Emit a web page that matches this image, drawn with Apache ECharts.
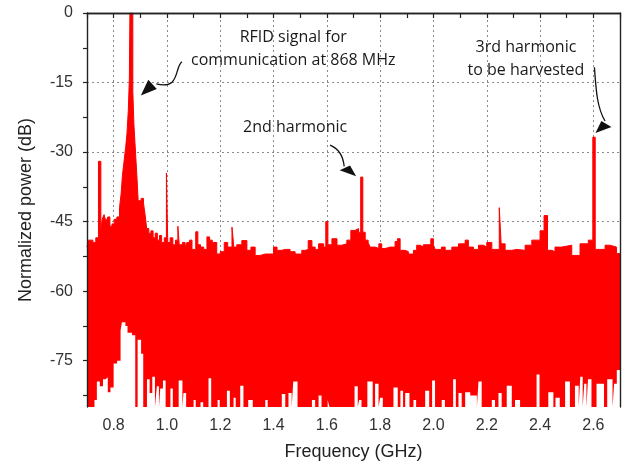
<!DOCTYPE html>
<html lang="en">
<head>
	<meta charset="UTF-8">
	<title>Spectrum</title>
	<script src="https://cdn.jsdelivr.net/npm/echarts@6.0.0/dist/echarts.min.js"></script>
	<style>
		html, body { margin: 0; padding: 0; background: #fff; }
	</style>
</head>
<body>
	<div id="spectrum" style="width: 627px;height: 467px;"></div>

	<script type="text/javascript">
	// axis ticks / labels
	var freqTicks = [0.7, 0.8, 0.9, 1.0, 1.1, 1.2, 1.3, 1.4, 1.5, 1.6, 1.7, 1.8, 1.9, 2.0, 2.1, 2.2, 2.3, 2.4, 2.5, 2.6, 2.7];
	var freqLabels = [0.8, 1.0, 1.2, 1.4, 1.6, 1.8, 2.0, 2.2, 2.4, 2.6];
	var powerTicks = [0, -7.5, -15, -22.5, -30, -37.5, -45, -52.5, -60, -67.5, -75, -82.5];
	var powerLabels = [0, -15, -30, -45, -60, -75];
	var powerGrid = [-15, -30, -45, -60, -75];

	// upper envelope of the measured spectrum [GHz, dB] (each value holds until the next point)
	var topEnvelope = [
		[0.700,-50.5],[0.705,-49],[0.722,-49.5],[0.733,-48.5],[0.743,-32],[0.752,-47],[0.757,-44.5],[0.764,-43.5],
		[0.771,-45],[0.778,-44],[0.786,-46],[0.794,-45.5],[0.802,-44.5],[0.812,-44],[0.822,-42],[0.828,-39],
		[0.833,-35],[0.838,-32.5],[0.845,-29],[0.850,-26],[0.855,-21],[0.859,-14],[0.861,0],[0.872,-17],
		[0.876,-24],[0.880,-28],[0.884,-32],[0.888,-36],[0.892,-40.5],[0.903,-40],[0.912,-41],[0.918,-43.5],
		[0.924,-46.5],[0.932,-47.5],[0.940,-47],[0.948,-48.5],[0.956,-47.5],[0.964,-49],[0.972,-48],[0.980,-49.5],
		[0.990,-48.5],[0.998,-34.5],[1.003,-49.5],[1.012,-48.5],[1.022,-50],[1.032,-49],[1.041,-46],[1.046,-50],
		[1.058,-49.5],[1.068,-50.5],[1.075,-49.5],[1.085,-49],[1.094,-51],[1.108,-47.2],[1.116,-50],[1.126,-50.5],
		[1.138,-51],[1.150,-48.3],[1.160,-49],[1.170,-49.5],[1.187,-52],[1.200,-51.5],[1.215,-49.5],[1.228,-50.5],
		[1.244,-46.2],[1.251,-50.5],[1.262,-50],[1.281,-49.1],[1.300,-51.2],[1.315,-50.5],[1.331,-52.3],[1.350,-52],
		[1.369,-52],[1.400,-50.5],[1.413,-51.2],[1.431,-51],[1.444,-51],[1.462,-51.5],[1.481,-52],[1.506,-51.2],
		[1.520,-51],[1.530,-49.1],[1.544,-50.5],[1.556,-51],[1.569,-49.8],[1.588,-50.5],[1.596,-45],[1.604,-50],
		[1.619,-48.7],[1.638,-50.1],[1.656,-49.8],[1.675,-49],[1.690,-46.9],[1.706,-46.5],[1.719,-47.3],[1.727,-35.4],
		[1.735,-47.3],[1.744,-49],[1.755,-49.5],[1.762,-50.5],[1.781,-50.8],[1.795,-49.8],[1.806,-50.8],[1.819,-50.5],
		[1.838,-50.5],[1.856,-49.3],[1.865,-48.7],[1.875,-51.2],[1.894,-51.5],[1.906,-52],[1.925,-51.2],[1.937,-50.1],
		[1.950,-50.5],[1.962,-50],[1.990,-48.7],[2.000,-50],[2.006,-51],[2.030,-50.5],[2.044,-51.2],[2.069,-50.5],
		[2.094,-49.8],[2.119,-49],[2.131,-50.5],[2.150,-51],[2.169,-50.1],[2.188,-50.5],[2.200,-49.5],[2.219,-51],
		[2.247,-42],[2.254,-49.8],[2.269,-51.2],[2.294,-51],[2.313,-51.2],[2.344,-50.1],[2.369,-49],[2.400,-47],
		[2.415,-43.7],[2.428,-51.2],[2.444,-51.5],[2.456,-50.5],[2.481,-50.1],[2.519,-52.3],[2.550,-49.8],[2.581,-49],
		[2.598,-26.8],[2.607,-51],[2.644,-50.1],[2.662,-50.5],[2.687,-51.9],[2.700,-51.9]
	];

	// lower envelope (white gaps reaching up from the noise floor) [GHz, dB]
	var lowEnvelope = [
		[0.700,-85],[0.728,-83.5],[0.737,-79.5],[0.748,-80.5],[0.760,-79],[0.770,-78.6],[0.778,-81.8],[0.788,-80.8],
		[0.800,-75.6],[0.813,-75],[0.826,-68.5],[0.831,-66.7],[0.844,-67.5],[0.852,-69],[0.869,-69.5],[0.881,-85],
		[0.890,-70.5],[0.903,-73.5],[0.911,-85],[0.925,-79],[0.935,-82],[0.945,-78.5],[0.955,-85],[0.962,-80.5],
		[0.970,-85],[0.975,-81],[0.985,-79.3],[0.995,-85],[1.013,-81],[1.022,-85],[1.044,-79.3],[1.058,-85],
		[1.062,-82],[1.072,-85],[1.100,-83.5],[1.108,-85],[1.126,-84],[1.136,-85],[1.156,-78.8],[1.166,-85],
		[1.190,-83.5],[1.198,-85],[1.225,-81.5],[1.236,-85],[1.250,-83],[1.258,-85],[1.275,-80.4],[1.287,-85],
		[1.305,-83.5],[1.322,-85],[1.369,-83.5],[1.378,-85],[1.431,-82.2],[1.444,-85],[1.456,-82],[1.468,-85],
		[1.474,-79.5],[1.490,-85],[1.544,-83.5],[1.556,-85],[1.569,-82.5],[1.580,-85],[1.603,-83.5],[1.610,-85],
		[1.704,-80.5],[1.716,-85],[1.721,-83.5],[1.730,-85],[1.752,-79.5],[1.772,-85],[1.781,-80],[1.794,-85],
		[1.800,-83],[1.810,-85],[1.850,-80.8],[1.866,-85],[1.876,-81.5],[1.886,-85],[1.894,-82],[1.910,-85],
		[1.925,-83.5],[1.935,-85],[1.969,-81.5],[1.984,-85],[1.995,-79.3],[2.006,-85],[2.031,-83.5],[2.043,-85],
		[2.074,-79],[2.084,-85],[2.094,-82],[2.106,-85],[2.119,-81.8],[2.138,-82.5],[2.163,-85],[2.169,-79.5],
		[2.181,-85],[2.219,-83.5],[2.231,-85],[2.244,-82],[2.256,-85],[2.275,-80.4],[2.294,-85],[2.306,-83.5],
		[2.325,-85],[2.387,-78],[2.398,-85],[2.431,-81.8],[2.450,-85],[2.458,-83],[2.474,-85],[2.494,-79.5],
		[2.512,-85],[2.531,-80.4],[2.545,-85],[2.551,-78.5],[2.560,-85],[2.566,-80],[2.574,-85],[2.580,-79],
		[2.593,-85],[2.612,-80],[2.640,-85],[2.652,-79],[2.672,-85],[2.678,-80],[2.688,-77],[2.700,-77]
	];

	// annotations, in data units (GHz, dB)
	var notes = [
		{ text: 'RFID signal for\ncommunication at 868 MHz', at: [1.474, -7.7] },
		{ text: '2nd harmonic', at: [1.481, -24.6] },
		{ text: '3rd harmonic\nto be harvested', at: [2.347, -9.9] }
	];
	// tail, cp1, cp2, end, then head: tip, base1, base2
	var arrows = [
		[[1.056,-10.5],[1.027,-11.9],[1.050,-16.6],[0.960,-15.3],[0.902,-17.8],[0.930,-14.4],[0.962,-16.4]],
		[[1.612,-28.5],[1.642,-29.2],[1.661,-30.7],[1.665,-33.1],[1.710,-35.2],[1.648,-33.9],[1.687,-32.9]],
		[[2.604,-11.7],[2.610,-16.6],[2.614,-20.5],[2.644,-23.3],[2.608,-25.9],[2.630,-23.3],[2.668,-24.6]]
	];

	var fmin = 0.7, fmax = 2.7, pmin = -85, pmax = 0;
	var axisFont = 'Liberation Sans, Arial, sans-serif';
	var noteFont = '16px "Open Sans", sans-serif';

	var gridLines = [];
	for (var g = 0; g < freqLabels.length; g++) gridLines.push({ xAxis: freqLabels[g] });
	for (var h = 0; h < powerGrid.length; h++) gridLines.push({ yAxis: powerGrid[h] });

	var spectrum = echarts.init(document.getElementById('spectrum'));

	var option = {
		animation: false,
		grid: { left: 87, right: 7, top: 13, bottom: 60 },
		xAxis: [
			{
				type: 'value', min: fmin, max: fmax, position: 'bottom', z: 10,
				name: 'Frequency (GHz)', nameLocation: 'middle', nameGap: 36,
				nameTextStyle: { fontFamily: axisFont, fontSize: 18, color: '#222' },
				axisLine: { lineStyle: { color: '#222', width: 1.4 } },
				axisTick: { show: true, length: 5, customValues: freqTicks, lineStyle: { color: '#222', width: 1.2 } },
				axisLabel: {
					customValues: freqLabels, margin: 11, fontFamily: axisFont, fontSize: 16, color: '#333',
					formatter: function (v) { return v.toFixed(1); }
				},
				splitLine: { show: false }
			},
			{
				type: 'value', min: fmin, max: fmax, position: 'top', z: 10,
				axisLine: { lineStyle: { color: '#222', width: 1.4 } },
				axisTick: { show: false }, axisLabel: { show: false }, splitLine: { show: false }
			}
		],
		yAxis: [
			{
				type: 'value', min: pmin, max: pmax, position: 'left', z: 10,
				name: 'Normalized power (dB)', nameLocation: 'middle', nameGap: 52,
				nameTextStyle: { fontFamily: axisFont, fontSize: 18, color: '#222' },
				axisLine: { show: true, lineStyle: { color: '#222', width: 1.4 } },
				axisTick: { show: true, length: 4, customValues: powerTicks, lineStyle: { color: '#222', width: 1.2 } },
				axisLabel: { customValues: powerLabels, margin: 14, fontFamily: axisFont, fontSize: 16, color: '#333' },
				splitLine: { show: false }
			},
			{
				type: 'value', min: pmin, max: pmax, position: 'right', z: 10,
				axisLine: { show: true, lineStyle: { color: '#222', width: 1.4 } },
				axisTick: { show: false }, axisLabel: { show: false }, splitLine: { show: false }
			}
		],
		series: [
			{
				name: 'grid',
				type: 'line',
				xAxisIndex: 0, yAxisIndex: 0,
				z: 1,
				data: [],
				markLine: {
					silent: true, z: 1, symbol: 'none', animation: false,
					label: { show: false },
					lineStyle: { color: '#8a8a8a', width: 1, type: [2, 3] },
					data: gridLines
				}
			},
			{
				name: 'spectrum',
				type: 'line',
				xAxisIndex: 0, yAxisIndex: 0,
				step: 'end',
				symbol: 'none',
				z: 2,
				lineStyle: { color: '#ff0000', width: 1 },
				areaStyle: { color: '#ff0000', opacity: 1, origin: 'start' },
				data: topEnvelope
			},
			{
				name: 'floor gaps',
				type: 'line',
				xAxisIndex: 0, yAxisIndex: 0,
				step: 'end',
				symbol: 'none',
				z: 3,
				lineStyle: { opacity: 0 },
				areaStyle: { color: '#ffffff', opacity: 1, origin: 'start' },
				data: lowEnvelope
			}
		]
	};
	spectrum.setOption(option);

	// annotations placed from data coordinates
	function px(p) {
		return spectrum.convertToPixel({ xAxisIndex: 0, yAxisIndex: 0 }, p);
	}
	var elements = [];
	for (var i = 0; i < notes.length; i++) {
		var c = px(notes[i].at);
		elements.push({
			type: 'text', x: c[0], y: c[1], z: 20,
			style: { text: notes[i].text, font: noteFont, fill: '#1a1a1a', align: 'center', verticalAlign: 'middle', lineHeight: 23 }
		});
	}
	for (var j = 0; j < arrows.length; j++) {
		var a = arrows[j].map(px);
		elements.push({
			type: 'bezierCurve', z: 20,
			shape: { x1: a[0][0], y1: a[0][1], cpx1: a[1][0], cpy1: a[1][1], cpx2: a[2][0], cpy2: a[2][1], x2: a[3][0], y2: a[3][1] },
			style: { stroke: '#111', lineWidth: 1.3, fill: null }
		});
		elements.push({
			type: 'polygon', z: 20,
			shape: { points: [a[4], a[5], a[6]] },
			style: { fill: '#111' }
		});
	}
	spectrum.setOption({ graphic: elements });
	</script>
</body>
</html>
